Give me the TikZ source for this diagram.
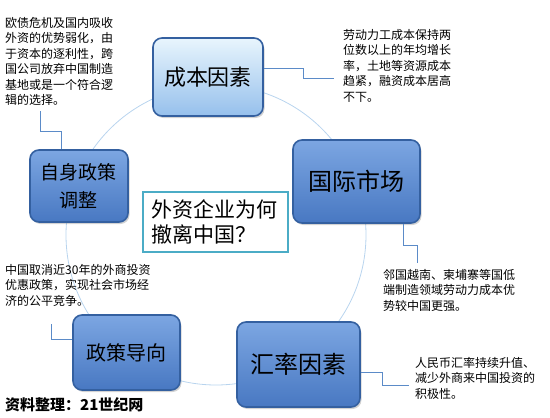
\documentclass[tikz,border=0pt]{standalone}
\usepackage{fontspec}
\newfontfamily\cjk{Noto Sans CJK SC}
\usetikzlibrary{shadows}
\definecolor{ringline}{RGB}{184,212,238}
\definecolor{boxline}{RGB}{52,96,160}
\definecolor{linkline}{RGB}{91,139,200}
\definecolor{quesline}{RGB}{75,172,198}
\definecolor{lighttop}{RGB}{232,245,253}
\definecolor{lightbot}{RGB}{150,192,236}
\definecolor{midtop}{RGB}{124,166,226}
\definecolor{midbot}{RGB}{72,120,194}
\newcommand{\fsz}[2]{\cjk\fontsize{#1}{#2}\selectfont}

\begin{document}
\begin{tikzpicture}[x=1pt, y=-1pt, font=\cjk,
  factor/.style={draw=boxline, line width=1.6pt, rounded corners=9pt, align=center, inner sep=2pt, drop shadow={shadow xshift=1.5pt, shadow yshift=-2pt, opacity=0.35}},
  factorl/.style={factor, top color=lighttop, bottom color=lightbot},
  factord/.style={factor, top color=midtop, bottom color=midbot},
  ques/.style={draw=quesline, line width=1.4pt, fill=white, minimum width=145pt, minimum height=60pt, text width=128pt, align=left, font=\fsz{21}{25}},
  note/.style={anchor=north west, inner sep=0pt, align=left, font=\fsz{12}{15.5}},
  link/.style={draw=linkline, line width=0.8pt},
  ring/.style={draw=ringline, line width=0.8pt}]
\useasboundingbox (0,0) rectangle (550,418);

% ---- ring behind the factors ----
\draw[ring] (216,235) circle[radius=150pt];

% ---- the five factors and the question ----
\node[factorl, minimum width=110pt, minimum height=78pt, font=\fsz{22}{26}] (cost) at (208,77) {成本因素};
\node[factord, minimum width=127pt, minimum height=83pt, font=\fsz{24}{28}] (market) at (356.5,181.5) {国际市场};
\node[factord, minimum width=98pt, minimum height=72pt, font=\fsz{19}{28}] (self) at (79,186) {自身政策\\调整};
\node[factord, minimum width=107pt, minimum height=75pt, font=\fsz{20}{24}] (policy) at (126.5,352.5) {政策导向};
\node[factord, minimum width=123pt, minimum height=85pt, font=\fsz{24}{28}] (rate) at (298.5,364.5) {汇率因素};
\node[ques] (why) at (215.5,222) {外资企业为何\\撤离中国？};

% ---- notes ----
\node[note] (selfnote) at (5,17) {欧债危机及国内吸收\\外资的优势弱化，由\\于资本的逐利性，跨\\国公司放弃中国制造\\基地或是一个符合逻\\辑的选择。};
\node[note] (costnote) at (343,29) {劳动力工成本保持两\\位数以上的年均增长\\率，土地等资源成本\\趋紧，融资成本居高\\不下。};
\node[note] (marketnote) at (383,269) {邻国越南、柬埔寨等国低\\端制造领域劳动力成本优\\势较中国更强。};
\node[note] (policynote) at (5,264) {中国取消近30年的外商投资\\优惠政策，实现社会市场经\\济的公平竞争。};
\node[note] (ratenote) at (415,357) {人民币汇率持续升值、\\减少外商来中国投资的\\积极性。};

% ---- elbow links from factors to notes ----
\draw[link] (self.north -| 61,0) -- ++(0,-18) -- ++(-21,0) -- ++(0,-20);
\draw[link] (cost.east |- 0,68) -- ++(40,0) -- ++(0,10) -- ++(30,0);
\draw[link] (market.south -| 403,0) -- ++(0,22) -- ++(14,0) -- ++(0,17);
\draw[link] (policy.west |- 0,339) -- ++(-21,0) -- ++(0,-15);
\draw[link] (rate.east |- 0,372) -- ++(22,0) -- ++(0,13) -- ++(26,0);

% source
\node[anchor=west, inner sep=0pt, font=\fsz{15}{18}\bfseries] (src) at (5,405) {资料整理：21世纪网};
\end{tikzpicture}
\end{document}
